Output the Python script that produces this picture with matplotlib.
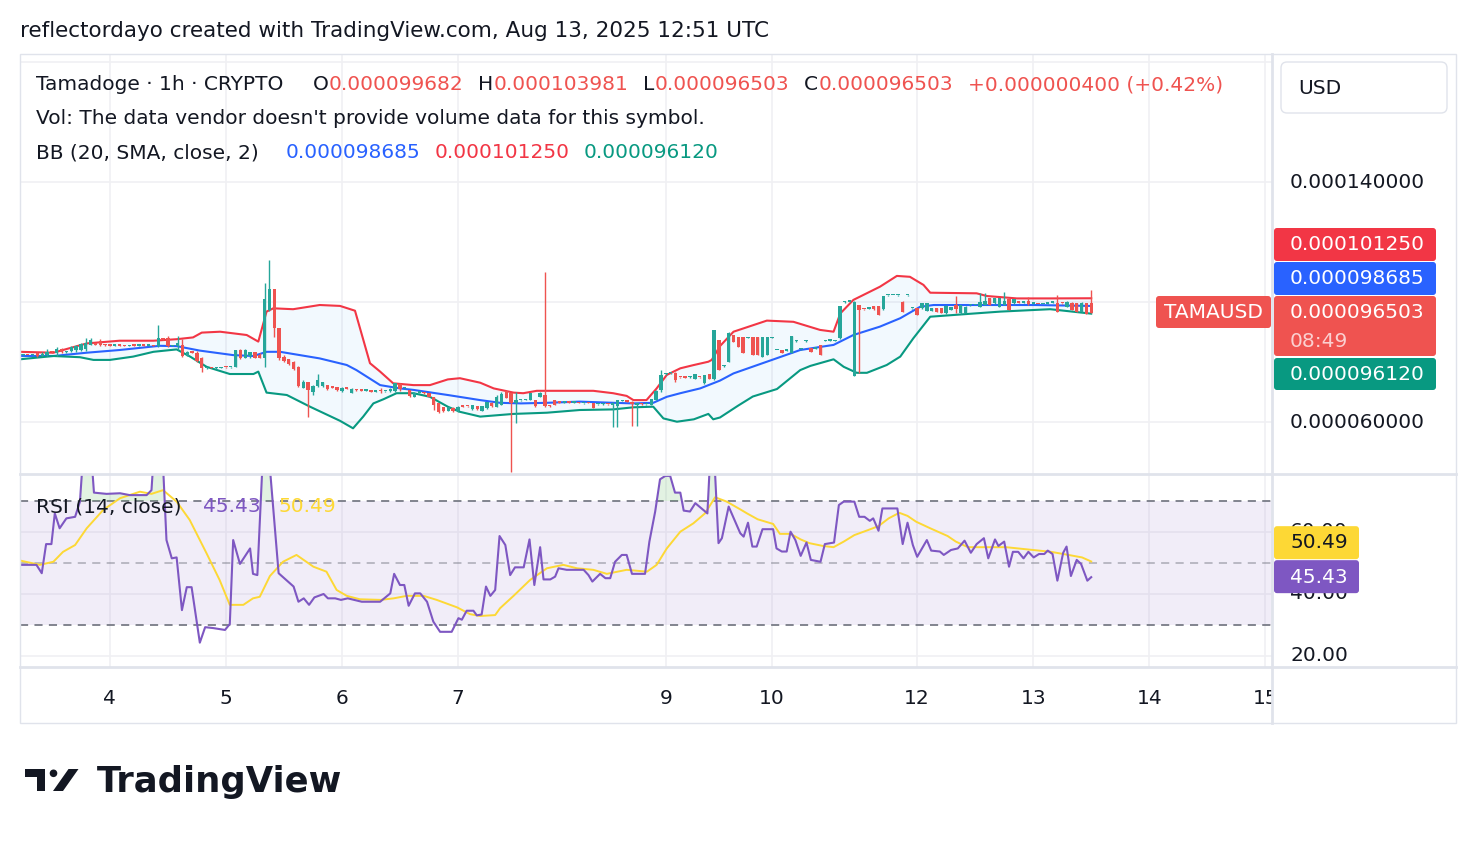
import matplotlib
matplotlib.use("Agg")
import matplotlib.pyplot as plt
from matplotlib.patches import FancyBboxPatch, Rectangle, Circle, Polygon
import numpy as np

# ---- data (prices in 1e-6 USD, x in hourly bar index) ----
opens = [
    82.3, 82.4, 82.2, 83.1, 82.0, 82.5, 83.4, 83.0, 84.2, 83.3,
    83.6, 84.0, 84.0, 84.2, 85.7, 86.0, 87.0, 85.8, 85.6, 85.4,
    85.6, 85.4, 85.3, 85.5, 85.4, 85.5, 85.4, 85.5, 85.2, 87.9,
    88.0, 85.3, 85.4, 85.7, 82.0, 83.4, 83.0, 81.5, 78.0, 78.1,
    77.9, 78.0, 78.3, 78.2, 78.4, 84.0, 81.2, 82.0, 83.4, 82.5,
    81.4, 97.3, 104.2, 91.2, 81.8, 81.0, 80.1, 78.4, 71.4, 73.4,
    70.0, 72.0, 72.0, 72.3, 71.6, 71.6, 70.4, 71.2, 69.8, 70.7,
    70.6, 70.4, 70.5, 70.1, 70.8, 70.2, 70.3, 70.5, 72.8, 71.2,
    70.7, 68.4, 69.8, 69.8, 69.6, 68.2, 66.2, 65.0, 63.8, 64.8,
    63.6, 65.2, 65.4, 64.2, 65.3, 63.8, 64.6, 66.4, 65.1, 65.8,
    70.4, 69.6, 66.2, 67.3, 67.3, 67.4, 67.3, 68.4, 69.0, 65.4,
    67.3, 66.6, 66.5, 66.6, 66.4, 66.5, 66.3, 66.4, 66.4, 65.9,
    66.0, 66.0, 65.8, 65.5, 67.0, 66.9, 66.8, 65.8, 66.1, 65.9,
    65.7, 67.3, 70.7, 75.9, 76.2, 76.4, 75.0, 74.9, 74.9, 74.3,
    75.0, 72.9, 76.0, 74.2, 87.3, 78.6, 80.1, 89.0, 88.2, 88.2,
    88.0, 88.2, 88.2, 81.8, 82.3, 88.0, 84.0, 84.0, 83.8, 83.1,
    86.9, 84.2, 86.9, 84.6, 84.5, 85.7, 87.0, 87.1, 87.0, 87.9,
    99.9, 100.1, 75.5, 99.0, 97.7, 97.8, 98.7, 98.7, 97.6, 102.2,
    102.3, 102.2, 100.1, 102.2, 97.9, 97.9, 97.9, 97.1, 97.1, 97.9,
    97.9, 96.2, 97.3, 99.0, 96.2, 96.5, 98.9, 99.0, 98.4, 99.0,
    101.2, 99.6, 98.4, 99.0, 100.9, 99.6, 99.9, 99.7, 100.3, 99.5,
    99.4, 99.3, 99.5, 99.7, 99.6, 99.7, 98.4, 99.8, 99.6, 96.8,
    99.6, 99.682,
]
highs = [
    82.5, 82.5, 82.5, 83.4, 83.2, 84.2, 83.6, 84.9, 84.6, 83.8,
    85.3, 85.7, 86.4, 87.9, 87.9, 86.2, 87.6, 85.9, 85.8, 85.7,
    85.8, 85.6, 85.6, 85.7, 85.6, 85.7, 85.6, 85.7, 92.3, 88.1,
    88.7, 85.6, 88.7, 87.6, 83.6, 83.6, 83.7, 81.8, 78.4, 78.3,
    78.2, 78.4, 78.5, 78.5, 84.0, 84.2, 84.4, 83.4, 83.5, 82.9,
    106.2, 114.0, 104.4, 91.3, 82.3, 81.1, 80.3, 78.6, 74.0, 73.5,
    72.3, 76.0, 73.4, 72.5, 71.8, 71.8, 71.6, 71.4, 71.2, 70.9,
    70.8, 70.6, 70.7, 70.4, 71.2, 70.5, 71.2, 73.1, 72.9, 71.4,
    70.8, 70.0, 70.0, 69.9, 69.7, 68.4, 66.2, 65.1, 65.1, 64.9,
    65.2, 65.3, 65.5, 65.7, 65.4, 65.4, 66.8, 66.6, 69.0, 70.1,
    70.5, 69.7, 70.1, 67.5, 67.7, 69.8, 67.4, 70.0, 110.1, 65.6,
    67.4, 66.8, 66.7, 66.8, 66.6, 66.7, 66.5, 66.6, 66.5, 66.1,
    66.2, 66.1, 66.6, 67.4, 67.2, 67.0, 66.9, 66.4, 66.2, 66.1,
    67.8, 70.7, 77.3, 76.3, 76.5, 76.8, 75.1, 75.0, 75.2, 76.0,
    75.1, 75.7, 76.0, 90.8, 87.4, 78.9, 89.9, 89.1, 88.3, 88.3,
    88.3, 88.3, 88.3, 88.3, 88.3, 88.3, 84.1, 84.1, 83.9, 88.8,
    87.2, 84.3, 87.2, 84.7, 84.7, 85.8, 87.2, 87.2, 87.2, 98.8,
    100.2, 100.2, 100.2, 99.1, 97.8, 97.9, 98.8, 98.8, 102.1, 102.4,
    102.4, 102.4, 100.2, 102.4, 98.0, 98.0, 99.7, 99.7, 98.0, 98.0,
    98.0, 98.9, 98.3, 102.0, 99.1, 98.6, 99.1, 99.1, 102.9, 103.1,
    101.3, 101.3, 101.3, 103.4, 101.0, 101.0, 100.0, 99.9, 101.8, 99.7,
    99.5, 99.4, 99.7, 99.9, 102.3, 99.8, 100.2, 99.9, 99.7, 99.9,
    99.7, 103.981,
]
lows = [
    82.1, 82.2, 82.1, 81.8, 81.9, 82.0, 83.0, 82.0, 82.9, 83.1,
    83.4, 83.4, 83.6, 83.8, 85.6, 85.7, 85.5, 85.5, 85.3, 85.3,
    85.4, 85.2, 85.2, 85.3, 85.2, 85.3, 85.2, 85.2, 85.1, 87.5,
    85.1, 85.2, 84.0, 81.8, 81.9, 83.0, 80.1, 76.8, 77.8, 77.9,
    77.8, 77.9, 78.1, 78.0, 78.2, 80.9, 81.2, 81.5, 81.2, 81.2,
    78.4, 97.0, 88.4, 80.7, 80.1, 79.0, 77.3, 71.8, 71.2, 61.8,
    69.0, 71.6, 71.8, 70.7, 71.4, 70.4, 70.1, 71.0, 69.6, 70.5,
    70.3, 70.2, 70.0, 69.9, 69.6, 70.0, 70.1, 70.1, 70.4, 71.0,
    68.4, 68.4, 69.6, 69.4, 68.2, 64.0, 62.9, 63.4, 63.6, 63.4,
    63.4, 64.9, 65.1, 64.0, 64.0, 63.8, 64.5, 65.1, 65.1, 65.7,
    67.9, 43.4, 59.6, 67.1, 67.2, 67.3, 65.1, 68.3, 65.1, 65.1,
    65.7, 66.4, 66.3, 66.3, 66.2, 66.3, 66.1, 66.2, 64.6, 65.8,
    65.8, 65.8, 58.4, 58.4, 66.9, 66.6, 58.7, 58.7, 65.8, 65.8,
    65.6, 67.2, 70.1, 75.8, 76.1, 73.4, 74.8, 74.7, 74.8, 74.3,
    74.8, 72.8, 74.2, 74.0, 77.3, 78.5, 80.0, 86.7, 85.0, 83.0,
    87.9, 82.2, 82.2, 81.7, 82.2, 87.9, 83.9, 83.0, 83.7, 83.0,
    86.8, 84.1, 86.8, 83.3, 84.4, 82.2, 86.9, 87.0, 86.9, 87.8,
    99.8, 100.0, 75.3, 76.2, 97.5, 97.7, 97.5, 95.6, 97.5, 102.1,
    102.2, 102.1, 96.7, 102.1, 97.8, 95.6, 97.8, 97.0, 97.0, 96.7,
    96.3, 96.1, 97.2, 96.2, 96.1, 96.4, 98.8, 98.9, 98.3, 98.9,
    98.9, 99.5, 98.3, 98.9, 97.2, 99.5, 99.7, 99.6, 99.0, 99.4,
    99.2, 99.2, 99.4, 99.6, 96.7, 99.5, 98.3, 97.2, 96.7, 96.7,
    96.0, 96.503,
]
closes = [
    82.4, 82.2, 82.4, 82.0, 82.6, 83.4, 83.2, 84.2, 83.3, 83.6,
    85.0, 85.3, 86.0, 86.2, 87.5, 85.8, 85.8, 85.6, 85.4, 85.6,
    85.4, 85.3, 85.5, 85.4, 85.5, 85.4, 85.5, 85.3, 87.9, 87.6,
    85.3, 85.4, 86.5, 82.0, 83.3, 83.1, 80.5, 78.0, 78.1, 77.9,
    78.0, 78.3, 78.2, 78.4, 84.0, 81.2, 84.0, 83.4, 81.5, 81.4,
    100.9, 104.2, 91.2, 81.2, 80.3, 79.2, 77.6, 72.0, 73.5, 70.7,
    72.0, 74.0, 73.2, 70.9, 71.5, 70.6, 71.4, 71.1, 71.0, 70.6,
    70.4, 70.5, 70.1, 70.3, 70.2, 70.3, 71.0, 73.0, 71.0, 71.3,
    68.6, 69.8, 69.9, 69.6, 68.4, 65.7, 63.4, 63.8, 65.0, 63.7,
    65.1, 65.1, 65.3, 65.6, 64.2, 65.3, 66.7, 65.2, 68.5, 69.5,
    67.9, 66.2, 67.3, 67.3, 67.6, 69.6, 65.2, 69.8, 65.2, 65.3,
    65.8, 66.5, 66.6, 66.4, 66.5, 66.3, 66.4, 66.2, 64.8, 66.0,
    66.0, 65.9, 66.2, 67.3, 67.1, 66.8, 66.0, 66.3, 65.9, 66.0,
    67.6, 70.4, 75.7, 76.2, 76.4, 74.0, 74.9, 74.8, 75.1, 76.0,
    74.9, 75.7, 74.2, 90.7, 77.5, 78.8, 89.8, 86.8, 85.1, 83.1,
    88.2, 82.3, 82.3, 88.2, 88.2, 88.2, 84.0, 83.1, 83.8, 88.7,
    87.1, 84.2, 87.1, 83.4, 84.6, 82.3, 87.1, 87.1, 87.1, 98.7,
    100.1, 100.1, 100.1, 97.3, 97.6, 97.9, 97.6, 95.7, 102.0, 102.3,
    102.3, 102.3, 96.8, 102.3, 97.9, 95.7, 99.6, 99.6, 97.9, 96.8,
    96.4, 98.8, 98.2, 97.6, 99.0, 98.5, 99.0, 99.0, 100.0, 100.5,
    99.0, 101.2, 101.2, 100.5, 97.3, 100.9, 99.8, 99.8, 99.2, 99.6,
    99.3, 99.3, 99.6, 99.8, 96.8, 99.6, 100.1, 97.3, 96.8, 99.8,
    96.103, 96.503,
]

# Bollinger bands (20, SMA, close, 2), vertices
bb_up_x = [-0.6, 6.3, 13.2, 20, 27, 31.8, 35.2, 37, 40.8, 46.3, 48.7, 50.4, 51.8, 55.9,
           61.4, 65.6, 68.7, 71.8, 73.9, 76.6, 80.8, 84.2, 87.9, 90.4, 94.6, 97.4, 101.5,
           103.5, 106.3, 118, 122.1, 124.9, 126.3, 129, 131.1, 133.2, 136, 138.8, 141.8,
           142.5, 144.2, 147, 153.9, 159.4, 164.9, 167.7, 169.1, 171.8, 177.3, 180.8,
           183.5, 186.3, 187.7, 197.3, 199.4, 205.6, 212.5, 221]
bb_up_y = [83.4, 83.1, 86.2, 87.1, 87.1, 87.6, 88.2, 89.8, 90.1, 89.0, 86.8, 96.8, 97.9, 97.6,
           99.0, 98.7, 97.1, 79.6, 76.8, 72.9, 72.3, 72.3, 74.2, 74.6, 73.1, 71.2, 69.8,
           69.6, 70.4, 70.4, 69.6, 68.7, 67.3, 67.3, 71.2, 75.7, 77.9, 79.0, 80.1,
           80.7, 85.3, 90.1, 93.8, 93.4, 90.7, 90.1, 96.2, 100.7, 105.1, 108.7,
           108.4, 105.7, 103.1, 102.9, 102.0, 101.2, 101.2, 101.25]
bb_mid_x = [-0.6, 6.3, 13.2, 20, 28.3, 31.8, 36.6, 43.5, 47.7, 50.4, 53.2, 61.4, 67, 69,
            73.9, 78, 80.8, 87.9, 94.6, 98.7, 103, 108.4, 115.2, 122.1, 126.3, 130.4,
            133.2, 136, 140.1, 144.2, 147, 153.9, 160.8, 167.7, 171.8, 177.3, 181.5,
            185.6, 188.4, 195.3, 209.1, 221]
bb_mid_y = [82.0, 82.0, 83.1, 84.0, 85.4, 85.3, 83.8, 82.3, 82.0, 83.4, 83.4, 81.2, 79.0, 77.3,
            72.3, 71.2, 70.7, 69.0, 67.3, 66.4, 66.2, 66.4, 66.8, 66.4, 66.2, 66.4,
            68.4, 69.6, 71.2, 73.8, 76.2, 80.1, 84.0, 85.7, 89.0, 91.8, 94.6,
            98.4, 99.0, 99.0, 99.0, 98.685]
bb_low_x = [-0.6, 6.3, 11.8, 14.6, 18, 22.8, 27, 31.8, 34.6, 38, 42.8, 47.7, 48.7, 50.4,
            54.6, 59.4, 65.6, 68.3, 70.4, 72.5, 74.6, 77.3, 80.8, 84.2, 87.9, 90.4, 94.6,
            101.5, 108.4, 115.2, 122.1, 126.3, 130.4, 132.5, 135.3, 138.8, 141.8, 142.8,
            144.2, 148, 151, 154, 156, 160.8, 162.9, 167.7, 169.8, 172.5, 174.6, 178.7,
            181.5, 184.2, 187.7, 195.3, 202.2, 212.5, 221]
bb_low_y = [80.9, 82.0, 81.6, 80.7, 80.7, 81.8, 83.4, 84.2, 81.8, 78.4, 76.0, 76.0, 76.8, 69.8,
            69.0, 65.1, 60.4, 57.9, 61.8, 66.2, 67.6, 69.6, 69.6, 68.4, 65.1, 63.4, 61.8,
            62.7, 63.1, 64.0, 64.2, 64.9, 65.1, 61.2, 60.1, 60.9, 62.7, 60.9,
            61.5, 65.5, 68.5, 70.0, 71.0, 77.3, 78.7, 80.9, 78.4, 76.4, 76.4, 79.0,
            81.8, 87.9, 95.1, 96.0, 96.8, 97.6, 96.12]

# RSI (14, close) and its moving average
rsi_x = [-0.6, 2.8, 3.9, 4.8, 5.9, 6.6, 7.6, 9.0, 10.8, 11.8, 12.6, 14.0, 14.7, 17.3, 20.1,
         22.1, 25.6, 26.6, 27.2, 28.8, 29.7, 30.8, 31.8, 32.9, 33.9, 34.9, 36.6, 37.7, 39.4,
         41.8, 42.8, 43.5, 44.9, 47.0, 47.6, 48.5, 49.8, 50.6, 52.9, 56.0, 57.0, 58.1, 59.2,
         60.3, 62.2, 63.1, 64.6, 65.8, 67.2, 70.1, 73.9, 76, 76.8, 78, 78.9, 79.8, 81.1,
         82.2, 83.6, 84.9, 86.3, 88.7, 90.1, 90.8, 91.8, 93.2, 93.9, 94.9, 95.8, 96.7, 97.7,
         98.6, 99.8, 100.8, 101.8, 103.6, 104.8, 105.8, 107, 107.7, 109.1, 110.1, 110.8,
         112.5, 116, 117, 117.8, 119.4, 120.5, 121.5, 122.5, 123.9, 124.9, 126, 128.7,
         129.6, 130.8, 131.8, 132.9, 133.9, 134.9, 136, 136.7, 138, 139.1, 141.6, 142.3,
         142.9, 143.9, 144.6, 146, 148.4, 149.1, 150, 150.9, 151.8, 153, 155.2, 155.9, 157,
         158, 158.8, 159.8, 160.9, 162.1, 163, 165, 165.9, 167.8, 168.8, 169.8, 172, 173,
         174.1, 175.2, 175.9, 177, 177.8, 180.9, 182, 183, 184.1, 185, 187, 187.9, 189.7,
         190.5, 192, 193.4, 194.8, 196.1, 197.3, 198.8, 199.7, 201.1, 201.8, 203, 204,
         204.8, 205.9, 207, 208, 209.1, 210.2, 211.3, 212, 213, 214, 215.2, 215.9, 216.8,
         218, 218.9, 220.2, 221]
rsi_y = [49.4, 49.4, 46.7, 56.1, 56.1, 66.0, 61.2, 64.4, 64.9, 69.8, 88, 88, 72.7, 72.3, 72.5,
         71.9, 71.9, 73.5, 88, 88, 57.4, 51.5, 51.8, 34.8, 42.2, 42.2, 24.3, 29.3, 29.0,
         28.4, 30.3, 57.4, 49.7, 54.7, 46.5, 46.1, 90, 90, 46.7, 42.4, 37.5, 38.6, 36.5,
         38.9, 40.0, 38.6, 38.6, 38.1, 38.6, 37.5, 37.5, 40.2, 46.5, 42.9, 42.9, 36.2, 40.2,
         40.2, 37.5, 31.1, 27.8, 27.8, 32.2, 31.7, 34.6, 34.6, 33.1, 33.4, 42.4, 39.4, 41.3,
         58.7, 55.8, 46.1, 48.6, 48.6, 57.6, 42.9, 55.1, 44.7, 44.7, 45.6, 48.3,
         47.8, 47.8, 46.1, 44.0, 46.5, 45.1, 45.1, 50.4, 52.6, 52.6, 46.5, 46.5,
         56.9, 66.6, 77.0, 78.1, 78.1, 72.7, 72.7, 66.9, 66.6, 69.3, 66.0, 88,
         88, 56.4, 58.0, 68.2, 59.6, 58.5, 63.0, 55.3, 55.3, 60.9, 60.9, 54.7, 53.7,
         53.7, 60.1, 57.4, 52.3, 56.6, 51.0, 50.4, 56.1, 56.6, 68.7, 69.8, 69.8, 64.9,
         64.9, 63.6, 64.4, 60.4, 67.6, 67.6, 56.1, 63.0, 55.8, 52.0, 57.4, 54.0, 53.7,
         52.6, 54.2, 54.7, 57.2, 53.3, 56.1, 58.0, 51.5, 57.6, 55.5, 56.9, 48.8,
         53.6, 53.6, 51.5, 53.6, 51.8, 52.9, 52.9, 54.0, 52.9, 44.3, 53.3, 55.3, 45.8,
         51.0, 49.7, 44.3, 45.43]
ma_x = [-0.6, 3.5, 6.3, 8.3, 10.8, 13.2, 16.6, 20.1, 24.2, 26.6, 29.0, 31.8, 34.5, 38.0,
        40.7, 42.8, 45.6, 47.6, 49.0, 51.1, 53.8, 56.6, 60.1, 62.8, 64.9, 67.0, 69.7, 74,
        76.7, 79.4, 82.9, 85.6, 89.8, 92.5, 94.6, 97.7, 98.7, 101.5, 104.9, 108.4, 111.8,
        114.6, 118, 120.8, 124.9, 129.1, 131.1, 133.2, 136, 138.7, 141.1, 143.2, 145.6,
        148.4, 149.8, 152, 155.2, 156.6, 158.8, 160.9, 162.7, 165.5, 167.7, 169.8, 172,
        174.8, 177, 179.1, 181.3, 183, 184.8, 187.7, 191.3, 193, 195.5, 203.4, 207.7,
        212.7, 216.3, 219.1, 221]
ma_y = [50.8, 49.4, 50.4, 53.6, 55.8, 61.2, 67.1, 70.9, 73.0, 72.3, 73.5, 69.8, 63.9, 53.1,
        44.5, 36.5, 36.5, 38.6, 39.1, 45.8, 50.4, 52.6, 48.8, 47.2, 41.3, 39.4, 38.3, 38.1,
        38.6, 39.4, 39.4, 38.1, 35.7, 33.5, 32.9, 33.2, 35.4, 39.4, 44.5, 48.3, 49.4,
        48.3, 47.8, 46.5, 47.8, 47.2, 49.4, 54.7, 60.1, 62.8, 66.0, 71.2, 69.8,
        67.3, 66.0, 64.1, 62.6, 59.4, 59.4, 57.6, 56.4, 55.5, 55.1, 56.9, 59.0,
        60.6, 61.9, 64.4, 66.2, 65.2, 63.3, 61.2, 58.7, 56.9, 55.1, 55.1, 54.4,
        53.6, 52.6, 51.8, 50.49]

day_ticks = [18, 42, 66, 90, 133, 155, 185, 209, 233, 257]
day_labels = ["4", "5", "6", "7", "9", "10", "12", "13", "14", "15"]
price_grid = [60, 100, 140, 180]
price_labels = [140, 60]
rsi_grid = [20, 40, 60, 80]
rsi_labels = [60, 40, 20]

# ---- colours ----
UP, DOWN = "#26a69a", "#ef5350"
C_UPPER, C_MID, C_LOWER = "#f23645", "#2962ff", "#089981"
C_RSI, C_MA = "#7e57c2", "#fdd835"
TXT = "#131722"
GRID = "#f0f0f3"
BORDER = "#e0e3eb"
FS = 14.5

W, H = 1476, 844
fig = plt.figure(figsize=(W / 100, H / 100), dpi=100)
fig.patch.set_facecolor("white")


def px_axes(x0, y0, x1, y1, **kw):
    return fig.add_axes([x0 / W, 1 - y1 / H, (x1 - x0) / W, (y1 - y0) / H], **kw)


def clean(a):
    for s in a.spines.values():
        s.set_visible(False)
    a.tick_params(length=0, labelbottom=False, labelleft=False)


ax = px_axes(20, 54, 1272, 474)
rsi = px_axes(20, 474, 1272, 667, sharex=ax)
tax = px_axes(20, 667, 1272, 723, sharex=ax)
for a in (ax, rsi, tax):
    clean(a)
ax.set_xlim(-0.6, 258.4)
ax.set_ylim(42.67, 182.67)
rsi.set_ylim(16.45, 78.71)
tax.set_ylim(0, 1)
tax.axis("off")

# ---- price pane ----
for t in day_ticks:
    ax.axvline(t, color=GRID, lw=1.2, zorder=0)
    rsi.axvline(t, color=GRID, lw=1.2, zorder=0)
for g in price_grid:
    ax.axhline(g, color=GRID, lw=1.2, zorder=0)

ax.fill(np.concatenate([bb_up_x, bb_low_x[::-1]]),
        np.concatenate([bb_up_y, bb_low_y[::-1]]),
        color="#2196f3", alpha=0.055, lw=0, zorder=1)
ax.plot(bb_up_x, bb_up_y, color=C_UPPER, lw=1.5, zorder=2)
ax.plot(bb_mid_x, bb_mid_y, color=C_MID, lw=1.5, zorder=2)
ax.plot(bb_low_x, bb_low_y, color=C_LOWER, lw=1.5, zorder=2)

o, h, l, c = (np.array(v) for v in (opens, highs, lows, closes))
xb = np.arange(len(c))
cols = np.where(c >= o, UP, DOWN)
ax.vlines(xb, l, h, colors=cols, lw=1.0, zorder=3)
body = np.maximum(np.abs(c - o), 0.5)
ax.bar(xb, body, bottom=np.minimum(o, c), width=0.7, color=cols, lw=0, zorder=3)

# ---- RSI pane ----
for g in rsi_grid:
    rsi.axhline(g, color=GRID, lw=1.2, zorder=0)
rsi.axhspan(30, 70, color=C_RSI, alpha=0.1, lw=0, zorder=0)
for lev, al in ((70, 1.0), (30, 1.0), (50, 0.5)):
    rsi.axhline(lev, color="#787b86", alpha=al, lw=1.3, ls=(0, (4.5, 3.5)), zorder=1)
rx, ry = np.array(rsi_x), np.array(rsi_y)
rsi.fill_between(rx, 70, ry, where=ry >= 70, interpolate=True, color="#4caf50",
                 alpha=0.16, lw=0, zorder=1)
rsi.plot(ma_x, ma_y, color=C_MA, lw=1.4, zorder=2)
rsi.plot(rx, ry, color=C_RSI, lw=1.5, zorder=3)

for t, lab in zip(day_ticks, day_labels):
    tax.text(t, 0.43, lab, ha="center", va="center", fontsize=FS, color=TXT, clip_on=True)

# ---- overlay in pixel coordinates ----
ov = fig.add_axes([0, 0, 1, 1], zorder=10)
ov.set_xlim(0, W)
ov.set_ylim(H, 0)
ov.axis("off")


def y_of(a, v):
    return H - a.transData.transform((0, v))[1]


ov.add_patch(Rectangle((20, 54), 1436, 669, fill=False, ec=BORDER, lw=1))
ov.plot([20, 1456], [474, 474], color=BORDER, lw=2)
ov.plot([20, 1456], [667, 667], color=BORDER, lw=2)
ov.plot([1272, 1272], [54, 723], color=BORDER, lw=2)


def box(x0, y0, x1, y1, color):
    ov.add_patch(FancyBboxPatch((x0, y0), x1 - x0, y1 - y0,
                                boxstyle="round,pad=0,rounding_size=3",
                                fc=color, ec="none", zorder=4))


def fmt(v):
    return f"{v / 1e6:.9f}"


# right axis tick labels (the rest are hidden under the value labels)
for v in price_labels:
    ov.text(1290, y_of(ax, v), fmt(v), fontsize=FS, color=TXT, va="center", zorder=2)
for v in rsi_labels:
    ov.text(1290, y_of(rsi, v), f"{v:.2f}", fontsize=FS, color=TXT, va="center", zorder=2)

# price labels stacked around the last close
cy = y_of(ax, closes[-1])
box(1274, cy - 84.5, 1436, cy - 51.5, C_UPPER)
ov.text(1290, cy - 68, fmt(bb_up_y[-1]), fontsize=FS, color="white", va="center", zorder=5)
box(1274, cy - 50.5, 1436, cy - 17.5, C_MID)
ov.text(1290, cy - 34, fmt(bb_mid_y[-1]), fontsize=FS, color="white", va="center", zorder=5)
box(1274, cy - 16.5, 1436, cy + 43.5, DOWN)
ov.text(1290, cy, fmt(closes[-1]), fontsize=FS, color="white", va="center", zorder=5)
ov.text(1290, cy + 28.5, "08:49", fontsize=FS, color="#fbd0d0", va="center", zorder=5)
box(1274, cy + 45.5, 1436, cy + 77.5, C_LOWER)
ov.text(1290, cy + 61.5, fmt(bb_low_y[-1]), fontsize=FS, color="white", va="center", zorder=5)
box(1156, cy - 16.5, 1271, cy + 15.5, DOWN)
ov.text(1214, cy, "TAMAUSD", fontsize=FS, color="white", va="center", ha="center", zorder=5)

# RSI labels
ry_last = y_of(rsi, rsi_y[-1])
box(1274, ry_last - 17, 1359, ry_last + 16, C_RSI)
ov.text(1290, ry_last, f"{rsi_y[-1]:.2f}", fontsize=FS, color="white", va="center", zorder=5)
box(1274, ry_last - 51, 1359, ry_last - 18, C_MA)
ov.text(1290, ry_last - 34.5, f"{ma_y[-1]:.2f}", fontsize=FS, color=TXT, va="center", zorder=5)

# USD box
ov.add_patch(FancyBboxPatch((1281, 62), 166, 51, boxstyle="round,pad=0,rounding_size=6",
                            fc="white", ec=BORDER, lw=1))
ov.text(1298, 88, "USD", fontsize=FS, color=TXT, va="center")

# ---- header texts ----
ov.text(20, 31, "reflectordayo created with TradingView.com, Aug 13, 2025 12:51 UTC",
        fontsize=15.5, color=TXT, va="center")
chg = closes[-1] - closes[-2]
pieces = [
    (36, "Tamadoge · 1h · CRYPTO", TXT), (313, "O", TXT), (329, fmt(opens[-1]), DOWN),
    (478, "H", TXT), (494, fmt(highs[-1]), DOWN), (643, "L", TXT), (655, fmt(lows[-1]), DOWN),
    (804, "C", TXT), (819, fmt(closes[-1]), DOWN),
    (968, f"{chg / 1e6:+.9f} ({chg / closes[-2] * 100:+.2f}%)", DOWN),
]
for x, s, col in pieces:
    ov.text(x, 85, s, fontsize=FS, color=col, va="center")
ov.text(36, 119, "Vol: The data vendor doesn't provide volume data for this symbol.",
        fontsize=FS, color=TXT, va="center")
for x, s, col in [(36, "BB (20, SMA, close, 2)", TXT), (286, fmt(bb_mid_y[-1]), C_MID),
                  (435, fmt(bb_up_y[-1]), C_UPPER), (584, fmt(bb_low_y[-1]), C_LOWER)]:
    ov.text(x, 153, s, fontsize=FS, color=col, va="center")
for x, s, col in [(36, "RSI (14, close)", TXT), (203, f"{rsi_y[-1]:.2f}", C_RSI),
                  (278, f"{ma_y[-1]:.2f}", C_MA)]:
    ov.text(x, 507, s, fontsize=FS, color=col, va="center")

# ---- TradingView logo ----
ov.add_patch(Polygon([(25, 769), (45, 769), (45, 791), (36.7, 791), (36.7, 777), (25, 777)],
                     closed=True, fc=TXT, ec="none"))
ov.add_patch(Circle((53.5, 773.3), 3.8, fc=TXT, ec="none"))
ov.add_patch(Polygon([(53, 791), (63, 791), (78.5, 769), (68.5, 769)], closed=True,
                     fc=TXT, ec="none"))
ov.text(97, 792, "TradingView", fontsize=25.5, fontweight="bold", color=TXT, va="baseline")

fig.savefig("out.png", dpi=100, facecolor="white")
